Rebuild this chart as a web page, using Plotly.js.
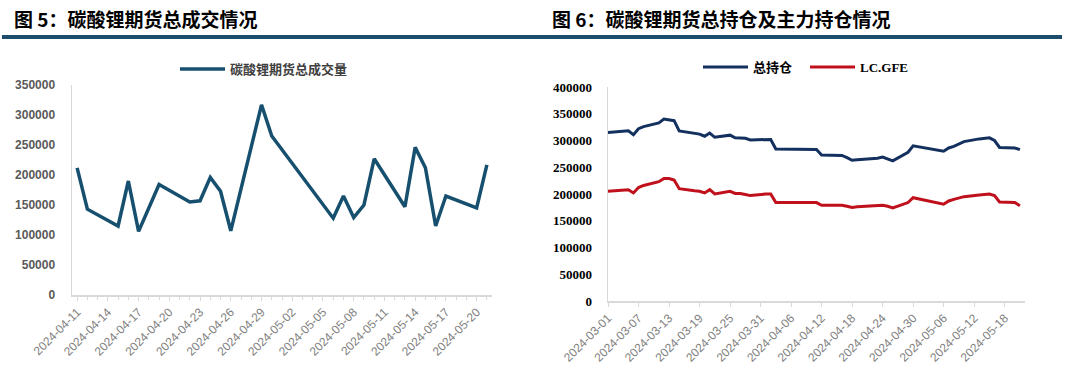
<!DOCTYPE html>
<html>
<head>
<meta charset="utf-8">
<script src="https://cdn.plot.ly/plotly-3.0.1.min.js"></script>
<style>html,body{margin:0;padding:0;background:#fff;}#chart{width:1067px;height:373px;}</style>
</head>
<body>
<div id="chart"></div>
<script>
// ---- Figure 5: total trading volume ----
const volDates = ['2024-04-11','2024-04-12','2024-04-15','2024-04-16','2024-04-17','2024-04-18','2024-04-19',
  '2024-04-22','2024-04-23','2024-04-24','2024-04-25','2024-04-26','2024-04-29','2024-04-30',
  '2024-05-06','2024-05-07','2024-05-08','2024-05-09','2024-05-10','2024-05-13','2024-05-14',
  '2024-05-15','2024-05-16','2024-05-17','2024-05-20','2024-05-21'];
const volValues = [212000,143000,115000,190000,106000,145000,184000,
  155000,157000,196000,173000,107000,317000,265000,
  128000,165000,129000,150000,227000,147000,246000,
  212000,115000,165000,145000,217000];

// ---- Figure 6: total open interest & main contract ----
const oiDates = ['2024-03-01','2024-03-04','2024-03-05','2024-03-06','2024-03-07','2024-03-08',
  '2024-03-11','2024-03-12','2024-03-13','2024-03-14','2024-03-15',
  '2024-03-18','2024-03-19','2024-03-20','2024-03-21','2024-03-22',
  '2024-03-25','2024-03-26','2024-03-27','2024-03-28','2024-03-29',
  '2024-04-01','2024-04-02','2024-04-03',
  '2024-04-08','2024-04-09','2024-04-10','2024-04-11','2024-04-12',
  '2024-04-15','2024-04-16','2024-04-17','2024-04-18','2024-04-19',
  '2024-04-22','2024-04-23','2024-04-24','2024-04-25','2024-04-26',
  '2024-04-29','2024-04-30',
  '2024-05-06','2024-05-07','2024-05-08','2024-05-09','2024-05-10',
  '2024-05-13','2024-05-14','2024-05-15','2024-05-16','2024-05-17',
  '2024-05-20','2024-05-21'];
const oiTotal = [315000,317000,318000,311000,322000,326000,
  333000,340000,339000,337000,318000,
  313000,312000,308000,314000,306000,
  310000,305000,305000,304000,301000,
  302000,302000,284000,
  283000,283000,284000,283000,273000,
  273000,272000,268000,263000,264000,
  266000,267000,269000,266000,262000,
  278000,290000,
  280000,286000,289000,293000,298000,
  303000,304000,305000,300000,287000,
  286000,283000];
const oiMain = [205000,207000,208000,202000,212000,216000,
  223000,229000,229000,226000,210000,
  206000,205000,202000,208000,200000,
  205000,201000,201000,199000,197000,
  200000,200000,184000,
  184000,184000,184000,184000,179000,
  179000,179000,177000,175000,176000,
  177000,178000,179000,177000,174000,
  184000,193000,
  181000,187000,190000,192000,195000,
  198000,199000,200000,197000,185000,
  184000,178000];

const title5 = '图 5：碳酸锂期货总成交情况';
const title6 = '图 6：碳酸锂期货总持仓及主力持仓情况';
const name5 = '碳酸锂期货总成交量';
const name6a = '总持仓';
const name6b = 'LC.GFE';

const H = 373, W = 1067;
const py = v => (H - v) / H;
const px = v => v / W;
const DAY = 86400000;

const traces = [
  {x: volDates, y: volValues, type: 'scatter', mode: 'lines', name: name5,
   line: {color: '#17506f', width: 3.5}, xaxis: 'x', yaxis: 'y', legend: 'legend'},
  {x: oiDates, y: oiTotal, type: 'scatter', mode: 'lines', name: name6a,
   line: {color: '#13305f', width: 3}, xaxis: 'x2', yaxis: 'y2', legend: 'legend2'},
  {x: oiDates, y: oiMain, type: 'scatter', mode: 'lines', name: name6b,
   line: {color: '#c0101c', width: 3}, xaxis: 'x2', yaxis: 'y2', legend: 'legend2'}
];

const axisLine = '#d9d9d9';
const layout = {
  width: W, height: H,
  margin: {l: 0, r: 0, t: 0, b: 0},
  paper_bgcolor: '#fff', plot_bgcolor: '#fff',
  showlegend: true,
  xaxis: {
    domain: [px(72), px(492)], anchor: 'y',
    type: 'date', range: ['2024-04-10 12:00', '2024-05-21 12:00'],
    tick0: '2024-04-11', dtick: 3 * DAY, tickformat: '%Y-%m-%d',
    tickangle: -45, showgrid: false, zeroline: false,
    showline: true, linecolor: axisLine, linewidth: 1.5,
    ticks: 'outside', ticklen: 4, tickcolor: axisLine,
    minor: {ticks: 'outside', dtick: DAY, ticklen: 3, tickcolor: axisLine, showgrid: false},
    tickfont: {family: 'Liberation Sans, Arial', size: 12, color: '#7f7f7f'}
  },
  yaxis: {
    domain: [py(295), py(85)], anchor: 'x',
    range: [0, 350000], dtick: 50000, tickformat: 'd',
    showgrid: false, zeroline: false,
    showline: true, linecolor: axisLine, linewidth: 1.5,
    ticks: '', ticklabelstandoff: 13,
    tickfont: {family: 'Liberation Sans, Arial', size: 12, color: '#595959', weight: 'bold'}
  },
  xaxis2: {
    domain: [px(608), px(1025)], anchor: 'y2',
    type: 'date', range: ['2024-03-01', '2024-05-22'],
    tick0: '2024-03-01', dtick: 6 * DAY, tickformat: '%Y-%m-%d',
    tickangle: -45, showgrid: false, zeroline: false,
    showline: true, linecolor: axisLine, linewidth: 1.5,
    ticks: 'outside', ticklen: 4, tickcolor: axisLine,
    tickfont: {family: 'Liberation Sans, Arial', size: 12, color: '#7f7f7f'}
  },
  yaxis2: {
    domain: [py(301), py(87)], anchor: 'x2',
    range: [0, 400000], dtick: 50000, tickformat: 'd',
    showgrid: false, zeroline: false,
    showline: true, linecolor: axisLine, linewidth: 1.5,
    ticks: '', ticklabelstandoff: 12,
    tickfont: {family: 'Liberation Serif, Times New Roman', size: 13, color: '#000', weight: 'bold'}
  },
  legend: {
    orientation: 'h', x: px(264), xanchor: 'center', y: py(69), yanchor: 'middle',
    bgcolor: 'rgba(0,0,0,0)', itemwidth: 45,
    font: {family: 'Noto Sans CJK SC', size: 13, color: '#404040', weight: 'bold'}
  },
  legend2: {
    orientation: 'h', x: px(698), xanchor: 'left', y: py(67), yanchor: 'middle',
    bgcolor: 'rgba(0,0,0,0)', itemwidth: 45, entrywidth: 47, entrywidthmode: 'pixels',
    font: {family: 'Liberation Serif, Noto Sans CJK SC', size: 13, color: '#000', weight: 'bold'}
  },
  shapes: [
    {type: 'line', xref: 'paper', yref: 'paper', x0: px(2), x1: px(1062), y0: py(37), y1: py(37),
     line: {color: '#1d4d6c', width: 4}}
  ],
  annotations: [
    {text: title5, xref: 'paper', yref: 'paper', x: px(12), y: py(18), xanchor: 'left', yanchor: 'middle',
     showarrow: false, font: {family: 'Noto Sans CJK SC', size: 19, color: '#000', weight: 'bold'}},
    {text: title6, xref: 'paper', yref: 'paper', x: px(550), y: py(18), xanchor: 'left', yanchor: 'middle',
     showarrow: false, font: {family: 'Noto Sans CJK SC', size: 19, color: '#000', weight: 'bold'}}
  ]
};

Plotly.newPlot('chart', traces, layout, {displayModeBar: false, staticPlot: true});
</script>
</body>
</html>
